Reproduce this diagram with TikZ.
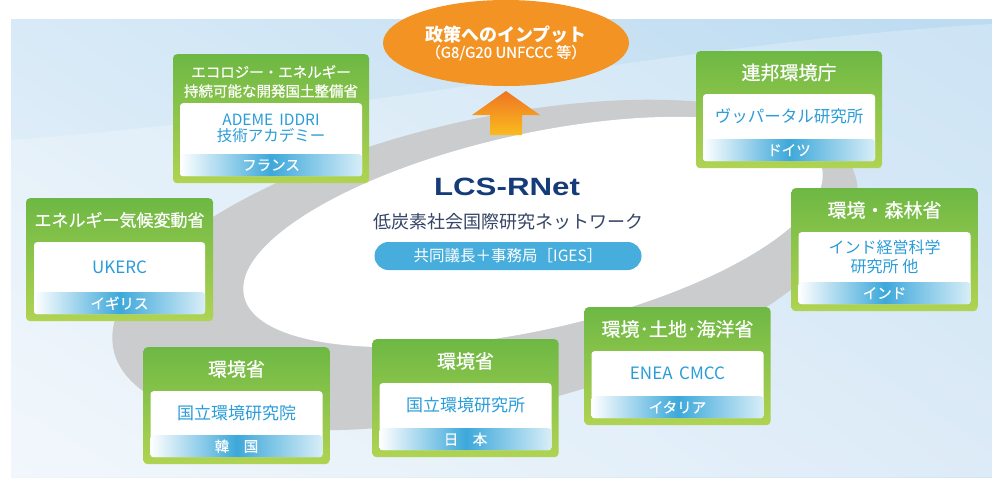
\documentclass[tikz,border=0pt]{standalone}
\usepackage{fontspec}
\setmainfont{Noto Sans CJK JP}
\newfontfamily\medfont{Noto Sans CJK JP}[FakeBold=0.5]
\newfontfamily\lcsfont{Liberation Sans}
\usetikzlibrary{positioning,calc,shapes.geometric,shadings}

\definecolor{greentop}{HTML}{6DB844}
\definecolor{greenbot}{HTML}{B0D352}
\definecolor{bandblue}{HTML}{3DA8DA}
\definecolor{textblue}{HTML}{2A9DD8}
\definecolor{navy}{HTML}{153B78}
\definecolor{subnavy}{HTML}{364565}
\definecolor{pillblue}{HTML}{46ADDC}
\definecolor{policyorange}{HTML}{F39324}
\definecolor{arrowtop}{HTML}{EE7424}
\definecolor{arrowbot}{HTML}{FABC1E}
\definecolor{ringgray}{HTML}{CBCCCE}
\definecolor{bgul}{HTML}{D8EAF7}
\definecolor{bgur}{HTML}{BCDBF1}
\definecolor{bgll}{HTML}{EEF5FB}
\definecolor{bglr}{HTML}{D2E5F5}

\tikzset{
  orgbox/.style={rounded corners=4pt, top color=greentop, bottom color=greenbot, minimum width=186pt, inner sep=0pt, anchor=north},
  inbox/.style={fill=white, rounded corners=3pt, minimum width=172pt, inner sep=0pt},
  band/.style={left color=white, right color=white!80!bandblue, middle color=bandblue, rounded corners=3pt, minimum width=172pt, minimum height=22pt, inner sep=0pt, text=white, font=\medfont\fontsize{14.5}{16}\selectfont},
  orgtitle/.style={text=white, font=\medfont\fontsize{19}{21}\selectfont, align=center, inner sep=0pt},
  orgtext/.style={text=textblue, font=\fontsize{17}{18}\selectfont, align=center, inner sep=0pt},
  policy/.style={ellipse, fill=policyorange, minimum width=246pt, minimum height=86pt, inner sep=0pt, text=white, align=center},
  pill/.style={fill=pillblue, rounded corners=14pt, minimum width=267pt, minimum height=28pt, inner sep=0pt, text=white, font=\fontsize{15.5}{17}\selectfont}
}

\begin{document}
\begin{tikzpicture}[x=1pt, y=-1pt]
\useasboundingbox (0,0) rectangle (992,477);

% background and ring
\shade[upper left=bgul, upper right=bgur, lower left=bgll, lower right=bglr] (11,19) rectangle (992,477);
\fill[white, opacity=.25] (11,140) .. controls (350,115) and (700,40) .. (992,24) -- (992,477) -- (11,477) -- cycle;
\fill[ringgray, rotate around={13:(485,265)}] (485,265) ellipse [x radius=381pt, y radius=145pt];
\fill[white, rotate around={12.5:(533,232)}] (533,232) ellipse [x radius=296pt, y radius=98pt];

% policy input
\node[policy] (policy) at (506,43) {{\fontsize{18}{21}\selectfont\bfseries 政策へのインプット}\\[1pt]{\medfont\fontsize{15}{17}\selectfont （G8/G20 UNFCCC 等）}};
\coordinate (tip) at (506,91);
\shade[top color=arrowtop, bottom color=arrowbot] (tip) -- ++(34pt,-24pt) -- ++(-18pt,0pt) -- ++(0pt,-20pt) -- ++(-32pt,0pt) -- ++(0pt,20pt) -- ++(-18pt,0pt) -- cycle;

% centre
\node[text=navy, font=\lcsfont\bfseries\fontsize{25}{28}\selectfont] (lcs) at (507,187) {\scalebox{1.25}[1]{LCS-RNet}};
\node[text=subnavy, font=\fontsize{18}{20}\selectfont] (lcsjp) at (508,222) {低炭素社会国際研究ネットワーク};
\node[pill] (iges) at (508,256) {共同議長＋事務局［IGES］};

% France
\node[orgbox, minimum width=196pt, minimum height=129pt] (fr) at (271,54) {};
\node[inbox, minimum width=182pt, minimum height=73pt, above=7pt of fr.south] (frin) {};
\node[band, minimum width=182pt, anchor=south] (frband) at (frin.south) {フランス};
\node[orgtitle, font=\medfont\fontsize{14.5}{19}\selectfont] (frtitle) at ($(fr.north)!.5!(frin.north)+(0pt,-3pt)$) {エコロジー・エネルギー\\持続可能な開発国土整備省};
\node[orgtext, font=\fontsize{15.5}{15.5}\selectfont] (frtext) at ($(frin.north)!.5!(frband.north)$) {ADEME\, IDDRI\\技術アカデミー};

% UK
\node[orgbox, minimum width=187pt, minimum height=123pt] (uk) at (119.5,198) {};
\node[inbox, minimum width=171pt, minimum height=72pt, above=7pt of uk.south] (ukin) {};
\node[band, minimum width=171pt, anchor=south] (ukband) at (ukin.south) {イギリス};
\node[orgtitle, font=\medfont\fontsize{17}{19}\selectfont] (uktitle) at ($(uk.north)!.5!(ukin.north)$) {エネルギー気候変動省};
\node[orgtext] (uktext) at ($(ukin.north)!.5!(ukband.north)$) {UKERC};

% Korea
\node[orgbox, minimum height=117pt] (kr) at (236.5,347) {};
\node[inbox, minimum height=66pt, above=7pt of kr.south] (krin) {};
\node[band, anchor=south] (krband) at (krin.south) {韓　国};
\node[orgtitle] (krtitle) at ($(kr.north)!.5!(krin.north)$) {環境省};
\node[orgtext] (krtext) at ($(krin.north)!.5!(krband.north)$) {国立環境研究院};

% Japan
\node[orgbox, minimum height=118pt] (jp) at (465.5,339) {};
\node[inbox, minimum height=67pt, above=7pt of jp.south] (jpin) {};
\node[band, anchor=south] (jpband) at (jpin.south) {日　本};
\node[orgtitle] (jptitle) at ($(jp.north)!.5!(jpin.north)$) {環境省};
\node[orgtext] (jptext) at ($(jpin.north)!.5!(jpband.north)$) {国立環境研究所};

% Germany
\node[orgbox, minimum height=117pt] (de) at (789,51) {};
\node[inbox, minimum height=67pt, above=7pt of de.south] (dein) {};
\node[band, anchor=south] (deband) at (dein.south) {ドイツ};
\node[orgtitle] (detitle) at ($(de.north)!.5!(dein.north)$) {連邦環境庁};
\node[orgtext, font=\fontsize{16.5}{18}\selectfont] (detext) at ($(dein.north)!.5!(deband.north)$) {ヴッパータル研究所};

% India
\node[orgbox, minimum height=123pt] (in) at (884.5,188) {};
\node[inbox, minimum height=72pt, above=7pt of in.south] (inin) {};
\node[band, anchor=south] (inband) at (inin.south) {インド};
\node[orgtitle] (intitle) at ($(in.north)!.5!(inin.north)$) {環境・森林省};
\node[orgtext, font=\fontsize{16}{19}\selectfont] (intext) at ($(inin.north)!.5!(inband.north)$) {インド経営科学\\研究所 他};

% Italy
\node[orgbox, minimum height=118pt] (it) at (677.5,307) {};
\node[inbox, minimum height=67pt, above=7pt of it.south] (itin) {};
\node[band, anchor=south] (itband) at (itin.south) {イタリア};
\node[orgtitle] (ittitle) at ($(it.north)!.5!(itin.north)$) {環境･土地･海洋省};
\node[orgtext] (ittext) at ($(itin.north)!.5!(itband.north)$) {ENEA\, CMCC};
\end{tikzpicture}
\end{document}
